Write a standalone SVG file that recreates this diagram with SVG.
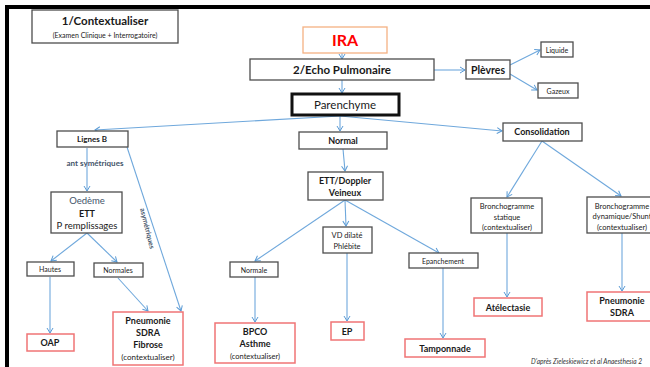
<svg xmlns="http://www.w3.org/2000/svg" width="650" height="367" viewBox="0 0 650 367">
<defs>
<marker id="ah" markerWidth="8" markerHeight="8" refX="6" refY="4" orient="auto" markerUnits="userSpaceOnUse">
<path d="M1,1 L6,4 L1,7" fill="none" stroke="#5b9bd5" stroke-width="1"/>
</marker>
<style>
text{font-family:Lato,"Open Sans","Liberation Sans",sans-serif;fill:#1a1a1a;text-anchor:middle}
.b{font-weight:bold}
.box{fill:#fff;stroke:#4d4d4d;stroke-width:1.3}
.red{fill:#fff;stroke:#f07475;stroke-width:1.5}
.c{stroke:#6fa8dc;stroke-width:1.1;fill:none;marker-end:url(#ah)}
</style>
</defs>
<rect width="650" height="367" fill="#fff"/>
<path d="M7,367 V7 H650" fill="none" stroke="#000" stroke-width="4"/>

<g id="connectors">
<line class="c" x1="342" y1="53" x2="342" y2="59"/>
<line class="c" x1="342" y1="80" x2="342" y2="93"/>
<line class="c" x1="434" y1="70" x2="465" y2="70"/>
<line class="c" x1="510" y1="65" x2="540" y2="50"/>
<line class="c" x1="510" y1="74" x2="537" y2="90"/>
<line class="c" x1="340" y1="116" x2="95" y2="130"/>
<line class="c" x1="340" y1="116" x2="502" y2="131"/>
<line class="c" x1="340" y1="116" x2="340" y2="131"/>
<line class="c" x1="87" y1="148" x2="87" y2="191"/>
<line class="c" x1="127" y1="147" x2="181" y2="311"/>
<line class="c" x1="87" y1="233" x2="51" y2="261"/>
<line class="c" x1="87" y1="233" x2="117" y2="262"/>
<line class="c" x1="50" y1="277" x2="50" y2="333"/>
<line class="c" x1="118" y1="278" x2="148" y2="311"/>
<line class="c" x1="343" y1="149" x2="345" y2="171"/>
<line class="c" x1="345" y1="200" x2="346" y2="226"/>
<line class="c" x1="345" y1="200" x2="255" y2="261"/>
<line class="c" x1="345" y1="200" x2="439" y2="253"/>
<line class="c" x1="255" y1="277" x2="255" y2="322"/>
<line class="c" x1="347" y1="253" x2="347" y2="321"/>
<line class="c" x1="443" y1="268" x2="443" y2="338"/>
<line class="c" x1="542" y1="141" x2="507" y2="197"/>
<line class="c" x1="542" y1="141" x2="621" y2="196"/>
<line class="c" x1="507" y1="233" x2="507" y2="297"/>
<line class="c" x1="622" y1="233" x2="622" y2="291"/>
<text x="145" y="229" transform="rotate(76 145 229)" font-size="7" class="b" style="fill:#44546a">asymétriques</text>
<text x="95" y="166" font-size="8" class="b" style="fill:#44546a">ant symétriques</text>
</g>

<g id="contextualiser">
<rect class="box" x="32" y="10" width="146" height="33"/>
<text x="105" y="25" font-size="11.5" class="b">1/Contextualiser</text>
<text x="105" y="38" font-size="7">(Examen Clinique + Interrogatoire)</text>
</g>
<g id="ira">
<rect x="303" y="27" width="84" height="26" fill="#fff" stroke="#f4b183" stroke-width="1.3"/>
<text x="345" y="46" font-size="16" class="b" style="fill:#ff0000">IRA</text>
</g>
<g id="echo">
<rect class="box" x="250" y="59" width="184" height="21"/>
<text x="342" y="74" font-size="11.5" class="b">2/Echo Pulmonaire</text>
</g>
<g id="parenchyme">
<rect x="292" y="94" width="107" height="21" fill="#fff" stroke="#111" stroke-width="3"/>
<text x="345" y="109" font-size="11.5">Parenchyme</text>
</g>
<g id="plevres">
<rect class="box" x="466" y="60" width="44" height="19"/>
<text x="488" y="74" font-size="10.5" class="b">Plèvres</text>
</g>
<g id="liquide">
<rect class="box" x="541" y="42" width="32" height="15"/>
<text x="557" y="52.5" font-size="7">Liquide</text>
</g>
<g id="gazeux">
<rect class="box" x="538" y="83" width="40" height="15"/>
<text x="558" y="93.5" font-size="7">Gazeux</text>
</g>
<g id="lignesb">
<rect class="box" x="57" y="131" width="71" height="16"/>
<text x="92" y="142" font-size="8" class="b">Lignes B</text>
</g>
<g id="oedeme">
<rect class="box" x="51" y="192" width="71" height="41"/>
<text x="87" y="204" font-size="9.5" style="fill:#44546a">Oedème</text>
<text x="87" y="216.5" font-size="9" class="b">ETT</text>
<text x="87" y="229" font-size="9.5">P remplissages</text>
</g>
<g id="hautes">
<rect class="box" x="27" y="262" width="47" height="14"/>
<text x="50" y="272" font-size="7">Hautes</text>
</g>
<g id="normales">
<rect class="box" x="94" y="263" width="49" height="14"/>
<text x="118" y="273" font-size="7">Normales</text>
</g>
<g id="oap">
<rect class="red" x="27" y="334" width="47" height="17"/>
<text x="50" y="346" font-size="9" class="b">OAP</text>
</g>
<g id="pneumonie-fibrose">
<rect class="red" x="113" y="312" width="70" height="53"/>
<text x="148" y="324" font-size="9" class="b">Pneumonie</text>
<text x="148" y="336" font-size="9" class="b">SDRA</text>
<text x="148" y="348" font-size="9" class="b">Fibrose</text>
<text x="148" y="360" font-size="8">(contextualiser)</text>
</g>
<g id="normal">
<rect class="box" x="299" y="132" width="88" height="17"/>
<text x="343" y="144" font-size="9" class="b">Normal</text>
</g>
<g id="ett-doppler">
<rect class="box" x="308" y="172" width="75" height="28"/>
<text x="345" y="184" font-size="9" class="b">ETT/Doppler</text>
<text x="345" y="195.5" font-size="9" class="b">Veineux</text>
</g>
<g id="vd">
<rect class="box" x="323" y="227" width="49" height="26"/>
<text x="347" y="238" font-size="7.5">VD dilaté</text>
<text x="347" y="248.5" font-size="7.5">Phlébite</text>
</g>
<g id="normale">
<rect class="box" x="230" y="262" width="48" height="15"/>
<text x="254" y="272.5" font-size="7">Normale</text>
</g>
<g id="bpco">
<rect class="red" x="215" y="323" width="80" height="40"/>
<text x="255" y="335" font-size="9" class="b">BPCO</text>
<text x="255" y="347" font-size="9" class="b">Asthme</text>
<text x="255" y="358.5" font-size="7.5">(contextualiser)</text>
</g>
<g id="ep">
<rect class="red" x="331" y="322" width="33" height="18"/>
<text x="347" y="334.5" font-size="9" class="b">EP</text>
</g>
<g id="epanchement">
<rect class="box" x="409" y="253" width="69" height="15"/>
<text x="443" y="263.5" font-size="7">Epanchement</text>
</g>
<g id="tamponnade">
<rect class="red" x="405" y="339" width="80" height="18"/>
<text x="445" y="351.5" font-size="9" class="b">Tamponnade</text>
</g>
<g id="consolidation">
<rect class="box" x="503" y="123" width="79" height="18"/>
<text x="542" y="135" font-size="9" class="b">Consolidation</text>
</g>
<g id="broncho-statique">
<rect class="box" x="471" y="198" width="71" height="35"/>
<text x="507" y="209" font-size="7.5">Bronchogramme</text>
<text x="507" y="219.5" font-size="7.5">statique</text>
<text x="507" y="230" font-size="7.5">(contextualiser)</text>
</g>
<g id="broncho-dynamique">
<rect class="box" x="587" y="197" width="70" height="36"/>
<text x="622" y="208.5" font-size="7.5">Bronchogramme</text>
<text x="622" y="219" font-size="7.5">dynamique/Shunt</text>
<text x="622" y="229.5" font-size="7.5">(contextualiser)</text>
</g>
<g id="atelectasie">
<rect class="red" x="474" y="298" width="68" height="18"/>
<text x="508" y="310.5" font-size="9" class="b">Atélectasie</text>
</g>
<g id="pneumonie-sdra">
<rect class="red" x="587" y="292" width="70" height="29"/>
<text x="622" y="304" font-size="9" class="b">Pneumonie</text>
<text x="622" y="316" font-size="9" class="b">SDRA</text>
</g>
<text x="531" y="364" font-size="6.6" font-style="italic" style="text-anchor:start;fill:#333">D'après Zieleskiewicz et al Anaesthesia 2</text>
</svg>
